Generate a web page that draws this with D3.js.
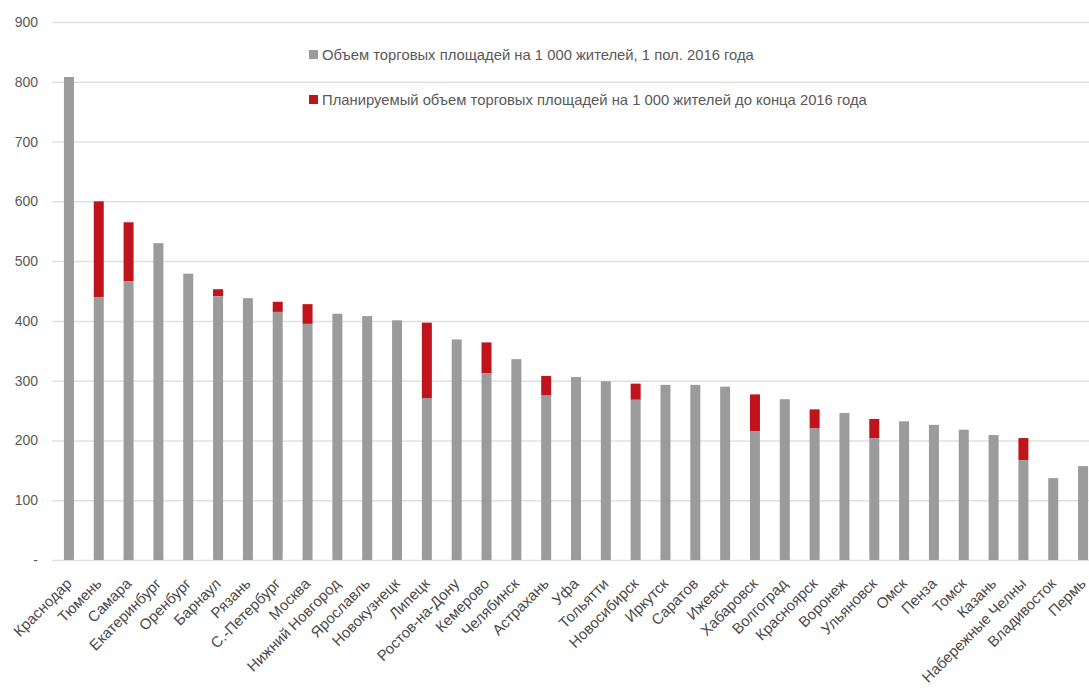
<!DOCTYPE html>
<html>
<head>
<meta charset="utf-8">
<script src="https://cdn.jsdelivr.net/npm/d3@7"></script>
<style>
  html, body { margin: 0; padding: 0; background: #fff; }
  svg text { font-family: "Liberation Sans", Arial, sans-serif; fill: #595959; }
</style>
</head>
<body>
<svg id="chart" width="1089" height="688"></svg>
<script>
// Cities, sorted by retail space per 1 000 residents
const cities = ["Краснодар","Тюмень","Самара","Екатеринбург","Оренбург","Барнаул","Рязань","С.-Петербург","Москва","Нижний Новгород","Ярославль","Новокузнецк","Липецк","Ростов-на-Дону","Кемерово","Челябинск","Астрахань","Уфа","Тольятти","Новосибирск","Иркутск","Саратов","Ижевск","Хабаровск","Волгоград","Красноярск","Воронеж","Ульяновск","Омск","Пенза","Томск","Казань","Набережные Челны","Владивосток","Пермь"];

// Retail space per 1 000 residents, H1 2016 (sq. m)
const current = [808,440,466,530,479,441,438,415,395,412,408,401,271,369,312,336,275,306,299,268,293,293,290,215,269,220,246,204,232,226,218,209,167,137,157];

// Planned retail space per 1 000 residents by end of 2016 (sq. m); 0 = no new supply
const planned = [0,600,565,0,0,453,0,432,428,0,0,0,397,0,364,0,308,0,0,295,0,0,0,277,0,252,0,236,0,0,0,0,204,0,0];

const yTicks = [0,100,200,300,400,500,600,700,800,900];

const legendLabels = [
  "Объем торговых площадей на 1 000 жителей, 1 пол. 2016 года",
  "Планируемый объем торговых площадей на 1 000 жителей до конца 2016 года"
];

const GREY = "#9b9b9b", RED = "#c0141c", GRID = "#e0e0e0";

const svg = d3.select("#chart");
const plotLeft = 52, plotRight = 1100, plotTop = 22, plotBottom = 560;

const x = d3.scaleBand().domain(cities).range([plotLeft, plotRight]).paddingInner(0.665).paddingOuter(0.4);
const y = d3.scaleLinear().domain([0, 900]).range([plotBottom, plotTop]);

// gridlines
const yAxis = d3.axisLeft(y).tickValues(yTicks).tickSize(-(1089 - plotLeft)).tickPadding(14)
  .tickFormat(d => d === 0 ? "-" : d);
const gy = svg.append("g").attr("transform", `translate(${plotLeft},0)`).call(yAxis);
gy.select(".domain").remove();
gy.selectAll(".tick line").attr("stroke", GRID).attr("stroke-width", 1.5);
gy.selectAll(".tick text").style("font-size", "14px").style("fill", "#595959");

// planned (red) segments sit on top of the current (grey) bars
svg.append("g").selectAll("rect").data(cities.map((c, i) => ({c, v: planned[i], base: current[i]})).filter(d => d.v > 0))
  .join("rect")
  .attr("x", d => x(d.c)).attr("width", x.bandwidth())
  .attr("y", d => y(d.v)).attr("height", d => y(d.base) - y(d.v))
  .attr("fill", RED);

svg.append("g").selectAll("rect").data(cities.map((c, i) => ({c, v: current[i]})))
  .join("rect")
  .attr("x", d => x(d.c)).attr("width", x.bandwidth())
  .attr("y", d => y(d.v)).attr("height", d => y(0) - y(d.v))
  .attr("fill", GREY);

// category labels, rotated
const gx = svg.append("g");
gx.selectAll("text").data(cities).join("text")
  .attr("transform", d => `translate(${x(d) + x.bandwidth() / 2},${plotBottom + 21}) rotate(-45)`)
  .attr("text-anchor", "end")
  .attr("dy", "0.35em")
  .style("font-size", "15px")
  .style("fill", "#4a4a4a")
  .text(d => d);

// legend
const legend = svg.append("g");
[GREY, RED].forEach((col, i) => {
  const ly = 55 + i * 45;
  legend.append("rect").attr("x", 309).attr("y", ly - 5).attr("width", 9).attr("height", 9).attr("fill", col);
  legend.append("text").attr("x", 322).attr("y", ly).attr("dy", "0.35em")
    .style("font-size", "14.8px").text(legendLabels[i]);
});
</script>
</body>
</html>
